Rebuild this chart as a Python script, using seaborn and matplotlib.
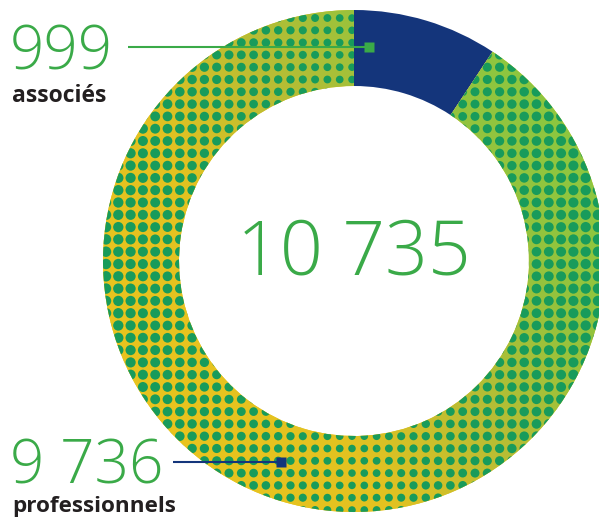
import numpy as np
import matplotlib
matplotlib.use("Agg")
import matplotlib.pyplot as plt
from matplotlib.colors import LinearSegmentedColormap
import seaborn as sns

# ---- data ----
categories = ["associés", "professionnels"]
values = [999, 9736]
value_labels = ["999", "9 736"]
total_label = "10 735"

sns.set_theme(style="white")
plt.rcParams["font.family"] = ["Open Sans", "DejaVu Sans"]

NAVY = "#14357b"
GREEN_TXT = "#3aaa48"
DOT = "#189b5b"

W, H = 599, 522
fig = plt.figure(figsize=(W / 100, H / 100), dpi=100)
ax = fig.add_axes([0, 0, 1, 1])

cx, cy, R, r = 354, 261, 251, 175
wedges, _ = ax.pie(values, startangle=90, counterclock=False, radius=R,
                   center=(cx, cy), colors=[NAVY, "#e8c41e"],
                   wedgeprops=dict(width=R - r, linewidth=0, edgecolor="none"))
ring = wedges[1]

# gradient fill of the patterned wedge
xs = np.linspace(cx - R, cx + R, 400)
ys = np.linspace(cy - R, cy + R, 400)
XX, YY = np.meshgrid(xs, ys)
t = ((XX - cx) * 0.85 + (YY - cy) * 0.53) / R
cmap = LinearSegmentedColormap.from_list(
    "ring", [(0.0, "#e9c41e"), (0.3, "#e3c221"), (0.55, "#b9bd34"),
             (0.8, "#95c33d"), (1.0, "#8dc740")])
im = ax.imshow((t + 1) / 2, cmap=cmap, vmin=0, vmax=1, origin="lower",
               extent=(cx - R, cx + R, cy - R, cy + R), interpolation="bilinear",
               zorder=1.5)
im.set_clip_path(ring)

# halftone dots
step = 12.3
gx = np.arange(cx - R + 3.0, cx + R, step)
gy = np.arange(cy - R + 2.0, cy + R, step)
DX, DY = np.meshgrid(gx, gy)
dist = np.hypot(DX - cx, DY - cy)
sel = (dist < R + 6) & (dist > r - 6)
DX, DY = DX[sel], DY[sel]
diam = 7.5 + 3.0 * np.abs(DX - cx) / R
sc = ax.scatter(DX, DY, s=(diam * 0.72) ** 2, c=DOT, marker="o",
                linewidths=0, zorder=1.6)
sc.set_clip_path(ring)

# centre total
ax.text(353.5, 522 - 255, total_label, ha="center", va="center",
        fontsize=54, fontweight="light", color=GREEN_TXT, zorder=5)

# labels
ax.text(10, 522 - 70, value_labels[0], ha="left", va="baseline",
        fontsize=43.5, fontweight="light", color=GREEN_TXT, zorder=5)
ax.text(12, 522 - 102, categories[0], ha="left", va="baseline",
        fontsize=16.5, fontweight="bold", color="#231f20", zorder=5)
ax.text(10, 522 - 483, value_labels[1], ha="left", va="baseline",
        fontsize=43.5, fontweight="light", color=GREEN_TXT, zorder=5)
ax.text(12, 522 - 512, categories[1], ha="left", va="baseline",
        fontsize=16.2, fontweight="bold", color="#231f20", zorder=5)

# leader lines
ax.plot([128, 369], [522 - 47, 522 - 47], color=GREEN_TXT, lw=1.5, zorder=4,
        solid_capstyle="butt")
ax.plot([369], [522 - 47], marker="s", ms=7.2, color=GREEN_TXT, mec="none", zorder=4)
ax.plot([173, 281], [522 - 462, 522 - 462], color=NAVY, lw=1.5, zorder=4,
        solid_capstyle="butt")
ax.plot([281], [522 - 462], marker="s", ms=7.2, color=NAVY, mec="none", zorder=4)

ax.set_xlim(0, W)
ax.set_ylim(0, H)
ax.set_aspect("auto")
ax.axis("off")
fig.savefig("out.png", dpi=100, facecolor="white")
